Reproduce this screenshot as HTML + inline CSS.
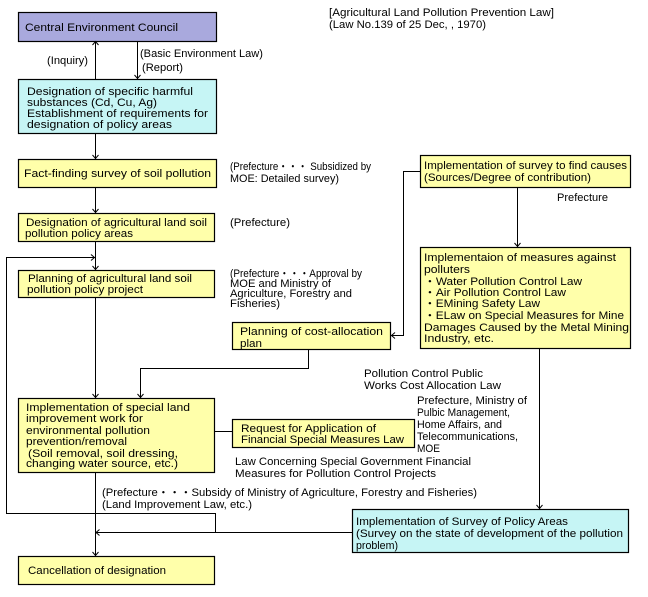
<!DOCTYPE html>
<html><head><meta charset="utf-8"><style>
html,body{margin:0;padding:0;background:#fff;}
svg{display:block;}
text{font-family:"Liberation Sans","Noto Sans CJK JP",sans-serif;font-size:11px;fill:#000;}
</style></head><body>
<svg width="648" height="597" viewBox="0 0 648 597" xmlns="http://www.w3.org/2000/svg">
<g stroke="#000" stroke-width="1.2">
<rect x="18.5" y="12.5" width="198" height="29" fill="#a9a9dd"/>
<rect x="18.5" y="79.5" width="198" height="54" fill="#c6f5f5"/>
<rect x="18.5" y="159.5" width="198" height="28" fill="#ffffaa"/>
<rect x="18.5" y="213.5" width="196" height="28" fill="#ffffaa"/>
<rect x="18.5" y="270.5" width="196" height="27" fill="#ffffaa"/>
<rect x="232.5" y="322.5" width="158" height="27" fill="#ffffaa"/>
<rect x="420.5" y="155.5" width="210" height="32" fill="#ffffaa"/>
<rect x="420.5" y="247.5" width="210" height="101" fill="#ffffaa"/>
<rect x="18.5" y="398.5" width="196" height="74" fill="#ffffaa"/>
<rect x="232.5" y="419.5" width="182" height="28" fill="#ffffaa"/>
<rect x="352.5" y="509.5" width="276" height="43" fill="#c6f5f5"/>
<rect x="18.5" y="556.5" width="196" height="28" fill="#ffffaa"/>
</g>
<g stroke="#000" stroke-width="1" fill="none">
<line x1="95.5" y1="41" x2="95.5" y2="79"/>
<polyline points="92.5,45 95.5,41.5 98.5,45"/>
<line x1="137.5" y1="41" x2="137.5" y2="79"/>
<polyline points="134.5,75 137.5,78.5 140.5,75"/>
<line x1="95.5" y1="133" x2="95.5" y2="159"/>
<polyline points="92.5,155 95.5,158.5 98.5,155"/>
<line x1="95.5" y1="187" x2="95.5" y2="213"/>
<polyline points="92.5,209 95.5,212.5 98.5,209"/>
<line x1="95.5" y1="241" x2="95.5" y2="270"/>
<polyline points="92.5,266 95.5,269.5 98.5,266"/>
<polyline points="215.5,532 215.5,513.5 6.5,513.5 6.5,257.5 95,257.5"/>
<polyline points="91,254.5 94.5,257.5 91,260.5"/>
<line x1="95.5" y1="297" x2="95.5" y2="398"/>
<polyline points="92.5,394 95.5,397.5 98.5,394"/>
<polyline points="308.5,349 308.5,368.5 140.5,368.5 140.5,398"/>
<polyline points="137.5,394 140.5,397.5 143.5,394"/>
<polyline points="420,171.5 403.5,171.5 403.5,335.5 391,335.5"/>
<polyline points="395,332.5 391.5,335.5 395,338.5"/>
<line x1="517.5" y1="187" x2="517.5" y2="247"/>
<polyline points="514.5,243 517.5,246.5 520.5,243"/>
<line x1="539.5" y1="348" x2="539.5" y2="509"/>
<polyline points="536.5,505 539.5,508.5 542.5,505"/>
<line x1="215" y1="431.5" x2="232" y2="431.5"/>
<line x1="352" y1="532.5" x2="96" y2="532.5"/>
<polyline points="99.5,529.5 96,532.5 99.5,535.5"/>
<line x1="95.5" y1="472" x2="95.5" y2="556"/>
<polyline points="92.5,552 95.5,555.5 98.5,552"/>
</g>
<g lengthAdjust="spacingAndGlyphs">
<text x="25" y="31" textLength="153" lengthAdjust="spacingAndGlyphs">Central Environment Council</text>
<text x="47" y="64" textLength="41" lengthAdjust="spacingAndGlyphs">(Inquiry)</text>
<text x="140" y="57" textLength="123" lengthAdjust="spacingAndGlyphs">(Basic Environment Law)</text>
<text x="142" y="71" textLength="41" lengthAdjust="spacingAndGlyphs">(Report)</text>
<text x="27" y="95" textLength="166" lengthAdjust="spacingAndGlyphs">Designation of specific harmful</text>
<text x="27" y="106" textLength="130" lengthAdjust="spacingAndGlyphs">substances (Cd, Cu, Ag)</text>
<text x="27" y="117" textLength="181" lengthAdjust="spacingAndGlyphs">Establishment of requirements for</text>
<text x="27" y="128" textLength="145" lengthAdjust="spacingAndGlyphs">designation of policy areas</text>
<text x="24" y="177" textLength="187" lengthAdjust="spacingAndGlyphs">Fact-finding survey of soil pollution</text>
<text x="230" y="170" textLength="141" lengthAdjust="spacingAndGlyphs">(Prefecture・・・ Subsidized by</text>
<text x="230" y="182" textLength="109" lengthAdjust="spacingAndGlyphs">MOE: Detailed survey)</text>
<text x="329" y="16" textLength="225" lengthAdjust="spacingAndGlyphs">[Agricultural Land Pollution Prevention Law]</text>
<text x="329" y="28" textLength="157" lengthAdjust="spacingAndGlyphs">(Law No.139 of 25 Dec, , 1970)</text>
<text x="424" y="169" textLength="203" lengthAdjust="spacingAndGlyphs">Implementation of survey to find causes</text>
<text x="424" y="181" textLength="167" lengthAdjust="spacingAndGlyphs">(Sources/Degree of contribution)</text>
<text x="557" y="201" textLength="51" lengthAdjust="spacingAndGlyphs">Prefecture</text>
<text x="26" y="226" textLength="181" lengthAdjust="spacingAndGlyphs">Designation of agricultural land soil</text>
<text x="25" y="237" textLength="108" lengthAdjust="spacingAndGlyphs">pollution policy areas</text>
<text x="230" y="226" textLength="60" lengthAdjust="spacingAndGlyphs">(Prefecture)</text>
<text x="28" y="282" textLength="164" lengthAdjust="spacingAndGlyphs">Planning of agricultural land soil</text>
<text x="27" y="293" textLength="116" lengthAdjust="spacingAndGlyphs">pollution policy project</text>
<text x="230" y="277" textLength="132" lengthAdjust="spacingAndGlyphs">(Prefecture・・・Approval by</text>
<text x="230" y="287" textLength="101" lengthAdjust="spacingAndGlyphs">MOE and Ministry of</text>
<text x="230" y="297" textLength="122" lengthAdjust="spacingAndGlyphs">Agriculture, Forestry and</text>
<text x="230" y="307" textLength="50" lengthAdjust="spacingAndGlyphs">Fisheries)</text>
<text x="240" y="335" textLength="143" lengthAdjust="spacingAndGlyphs">Planning of cost-allocation</text>
<text x="240" y="347" textLength="22" lengthAdjust="spacingAndGlyphs">plan</text>
<text x="424" y="261" textLength="192" lengthAdjust="spacingAndGlyphs">Implementaion of measures against</text>
<text x="424" y="273" textLength="46" lengthAdjust="spacingAndGlyphs">polluters</text>
<text x="424" y="285" textLength="158" lengthAdjust="spacingAndGlyphs">・Water Pollution Control Law</text>
<text x="424" y="296" textLength="142" lengthAdjust="spacingAndGlyphs">・Air Pollution Control Law</text>
<text x="424" y="307" textLength="116" lengthAdjust="spacingAndGlyphs">・EMining Safety Law</text>
<text x="424" y="319" textLength="200" lengthAdjust="spacingAndGlyphs">・ELaw on Special Measures for Mine</text>
<text x="424" y="331" textLength="205" lengthAdjust="spacingAndGlyphs">Damages Caused by the Metal Mining</text>
<text x="424" y="342" textLength="70" lengthAdjust="spacingAndGlyphs">Industry, etc.</text>
<text x="364" y="377" textLength="119" lengthAdjust="spacingAndGlyphs">Pollution Control Public</text>
<text x="364" y="389" textLength="137" lengthAdjust="spacingAndGlyphs">Works Cost Allocation Law</text>
<text x="417" y="404" textLength="110" lengthAdjust="spacingAndGlyphs">Prefecture, Ministry of</text>
<text x="417" y="416" textLength="93" lengthAdjust="spacingAndGlyphs">Pulbic Management,</text>
<text x="417" y="428" textLength="85" lengthAdjust="spacingAndGlyphs">Home Affairs, and</text>
<text x="417" y="440" textLength="101" lengthAdjust="spacingAndGlyphs">Telecommunications,</text>
<text x="417" y="452" textLength="23" lengthAdjust="spacingAndGlyphs">MOE</text>
<text x="26" y="411" textLength="164" lengthAdjust="spacingAndGlyphs">Implementation of special land</text>
<text x="26" y="422" textLength="117" lengthAdjust="spacingAndGlyphs">improvement work for</text>
<text x="26" y="434" textLength="124" lengthAdjust="spacingAndGlyphs">environmental pollution</text>
<text x="26" y="445" textLength="101" lengthAdjust="spacingAndGlyphs">prevention/removal</text>
<text x="28" y="457" textLength="150" lengthAdjust="spacingAndGlyphs">(Soil removal, soil dressing,</text>
<text x="26" y="467" textLength="152" lengthAdjust="spacingAndGlyphs">changing water source, etc.)</text>
<text x="241" y="432" textLength="135" lengthAdjust="spacingAndGlyphs">Request for Application of</text>
<text x="241" y="443" textLength="163" lengthAdjust="spacingAndGlyphs">Financial Special Measures Law</text>
<text x="235" y="465" textLength="236" lengthAdjust="spacingAndGlyphs">Law Concerning Special Government Financial</text>
<text x="235" y="477" textLength="201" lengthAdjust="spacingAndGlyphs">Measures for Pollution Control Projects</text>
<text x="102" y="496" textLength="375" lengthAdjust="spacingAndGlyphs">(Prefecture・・・Subsidy of Ministry of Agriculture, Forestry and Fisheries)</text>
<text x="102" y="508" textLength="150" lengthAdjust="spacingAndGlyphs">(Land Improvement Law, etc.)</text>
<text x="356" y="525" textLength="212" lengthAdjust="spacingAndGlyphs">Implementation of Survey of Policy Areas</text>
<text x="356" y="537" textLength="267" lengthAdjust="spacingAndGlyphs">(Survey on the state of development of the pollution</text>
<text x="356" y="549" textLength="42" lengthAdjust="spacingAndGlyphs">problem)</text>
<text x="28" y="574" textLength="138" lengthAdjust="spacingAndGlyphs">Cancellation of designation</text>
</g>
</svg>
</body></html>
